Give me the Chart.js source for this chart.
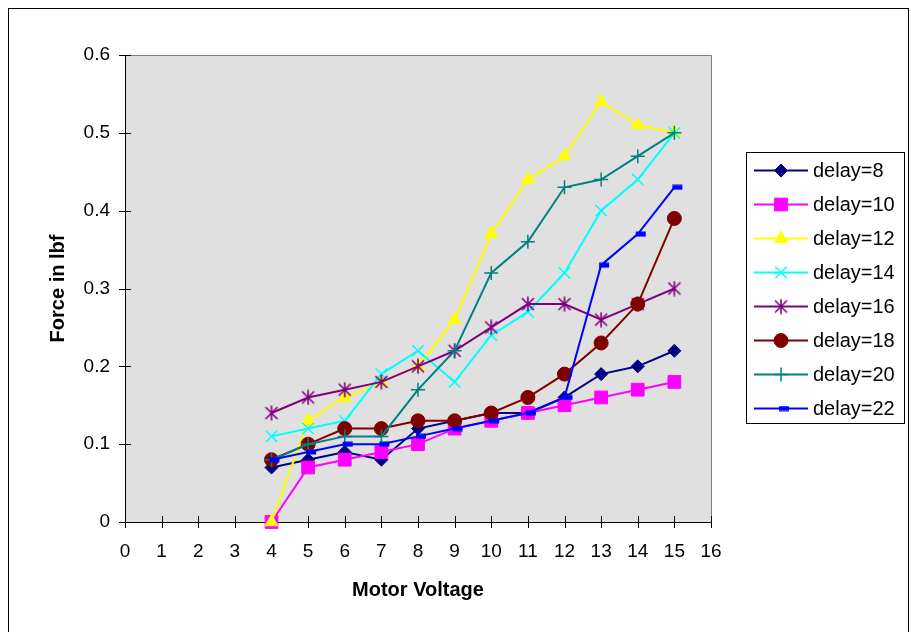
<!DOCTYPE html>
<html>
<head>
<meta charset="utf-8">
<script src="https://cdn.jsdelivr.net/npm/chart.js@4/dist/chart.umd.min.js"></script>
<style>
    html, body { margin: 0; padding: 0; background: #fff; }
    #wrap { position: relative; width: 911px; height: 632px; }
</style>
</head>
<body>
<div id="wrap"><canvas id="forceChart" width="911" height="632"></canvas></div>
<script>
// Dados
const voltages = [4, 5, 6, 7, 8, 9, 10, 11, 12, 13, 14, 15];
const seriesNames = ['delay=8', 'delay=10', 'delay=12', 'delay=14', 'delay=16', 'delay=18', 'delay=20', 'delay=22'];
const delay8  = [0.07, 0.08, 0.09, 0.08, 0.12, 0.13, 0.14, 0.14, 0.16, 0.19, 0.20, 0.22];
const delay10 = [0, 0.07, 0.08, 0.09, 0.10, 0.12, 0.13, 0.14, 0.15, 0.16, 0.17, 0.18];
const delay12 = [0, 0.13, 0.16, 0.18, 0.20, 0.26, 0.37, 0.44, 0.47, 0.54, 0.51, 0.50];
const delay14 = [0.11, 0.12, 0.13, 0.19, 0.22, 0.18, 0.24, 0.27, 0.32, 0.40, 0.44, 0.50];
const delay16 = [0.14, 0.16, 0.17, 0.18, 0.20, 0.22, 0.25, 0.28, 0.28, 0.26, 0.28, 0.30];
const delay18 = [0.08, 0.10, 0.12, 0.12, 0.13, 0.13, 0.14, 0.16, 0.19, 0.23, 0.28, 0.39];
const delay20 = [0.08, 0.10, 0.11, 0.11, 0.17, 0.22, 0.32, 0.36, 0.43, 0.44, 0.47, 0.50];
const delay22 = [0.08, 0.09, 0.10, 0.10, 0.11, 0.12, 0.13, 0.14, 0.16, 0.33, 0.37, 0.43];
const xTicks = [0, 1, 2, 3, 4, 5, 6, 7, 8, 9, 10, 11, 12, 13, 14, 15, 16];
const yTicks = [0, 0.1, 0.2, 0.3, 0.4, 0.5, 0.6];

// Marcadores desenhados à mão (asterisco e traço do Excel)
function makeAsterisk(color) {
    const c = document.createElement('canvas');
    c.width = 16; c.height = 16;
    const g = c.getContext('2d');
    g.strokeStyle = color;
    g.lineWidth = 1.6;
    g.beginPath();
    g.moveTo(2, 2); g.lineTo(14, 14);
    g.moveTo(14, 2); g.lineTo(2, 14);
    g.moveTo(8, 0.5); g.lineTo(8, 15.5);
    g.stroke();
    return c;
}
function makeDash(color) {
    const c = document.createElement('canvas');
    c.width = 20; c.height = 6;
    const g = c.getContext('2d');
    g.fillStyle = color;
    g.fillRect(8, 0.5, 10, 5);
    return c;
}

// Estilos de cada série
const allSeries = [delay8, delay10, delay12, delay14, delay16, delay18, delay20, delay22];
const colors = ['#000080', '#ff00ff', '#ffff00', '#00ffff', '#800080', '#800000', '#008080', '#0000ff'];
const markers = ['rectRot', 'rect', 'triangle', 'crossRot', makeAsterisk('#800080'), 'circle', 'cross', makeDash('#0000ff')];
const markerSizes = [6.5, 9, 7.5, 8, 7, 7, 7, 5];
const markerBorders = [1, 1, 1, 1.5, 1.5, 1, 1.5, 1];

Chart.defaults.font.family = "'Liberation Sans', Arial, sans-serif";
Chart.defaults.color = '#000';

const datasets = allSeries.map(function(values, i) {
    return {
        label: seriesNames[i],
        data: values.map((v, k) => ({ x: voltages[k], y: v })),
        borderColor: colors[i],
        backgroundColor: colors[i],
        borderWidth: 2,
        pointStyle: markers[i],
        pointRadius: markerSizes[i],
        pointBorderWidth: markerBorders[i],
        pointBackgroundColor: colors[i],
        pointBorderColor: colors[i],
        tension: 0,
        clip: false,
        order: allSeries.length - i
    };
});

function drawMarker(ctx, i, x, y) {
    ctx.fillStyle = colors[i];
    ctx.strokeStyle = colors[i];
    ctx.lineWidth = markerBorders[i];
    const opts = { pointStyle: markers[i], radius: markerSizes[i], borderWidth: markerBorders[i], rotation: 0 };
    if (Chart.helpers && Chart.helpers.drawPoint) {
        Chart.helpers.drawPoint(ctx, opts, x, y);
    } else {
        ctx.beginPath();
        ctx.arc(x, y, markerSizes[i], 0, Math.PI * 2);
        ctx.fill();
    }
}

// Fundo, moldura, marcas cruzadas e legenda
const excelLook = {
    id: 'excelLook',
    beforeDraw(chart) {
        const ctx = chart.ctx;
        const a = chart.chartArea;
        ctx.save();
        ctx.fillStyle = '#fff';
        ctx.fillRect(0, 0, chart.width, chart.height);
        ctx.strokeStyle = '#000';
        ctx.lineWidth = 1;
        ctx.strokeRect(8.5, 8.5, 900, 700);
        ctx.fillStyle = '#e0e0e0';
        ctx.fillRect(a.left, a.top, a.right - a.left, a.bottom - a.top);
        ctx.strokeStyle = '#808080';
        ctx.beginPath();
        ctx.moveTo(a.left, a.top + 0.5);
        ctx.lineTo(a.right + 0.5, a.top + 0.5);
        ctx.lineTo(a.right + 0.5, a.bottom);
        ctx.stroke();
        ctx.restore();
    },
    beforeDatasetsDraw(chart) {
        const ctx = chart.ctx;
        const xs = chart.scales.x;
        const ys = chart.scales.y;
        const a = chart.chartArea;
        ctx.save();
        ctx.strokeStyle = '#000';
        ctx.lineWidth = 1;
        ctx.beginPath();
        xTicks.forEach(function(t) {
            const px = Math.round(xs.getPixelForValue(t)) + 0.5;
            ctx.moveTo(px, a.bottom - 6);
            ctx.lineTo(px, a.bottom + 6);
        });
        yTicks.forEach(function(t) {
            const py = Math.round(ys.getPixelForValue(t)) + 0.5;
            ctx.moveTo(a.left - 6, py);
            ctx.lineTo(a.left + 6, py);
        });
        ctx.stroke();
        ctx.restore();
    },
    afterDraw(chart) {
        const ctx = chart.ctx;
        ctx.save();
        ctx.fillStyle = '#fff';
        ctx.fillRect(746.5, 152.5, 158, 271);
        ctx.strokeStyle = '#000';
        ctx.lineWidth = 1;
        ctx.strokeRect(746.5, 152.5, 158, 271);
        seriesNames.forEach(function(name, i) {
            const y = 170.5 + i * 34;
            ctx.strokeStyle = colors[i];
            ctx.lineWidth = 2;
            ctx.beginPath();
            ctx.moveTo(754, y);
            ctx.lineTo(808, y);
            ctx.stroke();
            drawMarker(ctx, i, 781, y);
            ctx.fillStyle = '#000';
            ctx.font = "20px 'Liberation Sans', Arial, sans-serif";
            ctx.textAlign = 'left';
            ctx.textBaseline = 'middle';
            ctx.fillText(name, 813, y + 1);
        });
        ctx.restore();
    }
};

const ctx = document.getElementById('forceChart').getContext('2d');
const forceChart = new Chart(ctx, {
    type: 'line',
    data: { datasets: datasets },
    options: {
        responsive: false,
        animation: false,
        layout: { padding: { left: 0, top: 55, right: 200, bottom: 0 } },
        plugins: {
            legend: { display: false },
            tooltip: { enabled: false }
        },
        scales: {
            x: {
                type: 'linear',
                min: 0,
                max: 16,
                afterFit: function(scale) { scale.height = 110; },
                afterBuildTicks: function(scale) { scale.ticks = xTicks.map(v => ({ value: v })); },
                grid: { drawOnChartArea: false, drawTicks: true, tickLength: 6, tickColor: 'rgba(0,0,0,0)' },
                border: { color: '#000', width: 1 },
                ticks: { padding: 12, font: { size: 19 }, color: '#000' },
                title: {
                    display: true,
                    text: 'Motor Voltage',
                    font: { size: 20, weight: 'bold' },
                    padding: { top: 0, bottom: 30 }
                }
            },
            y: {
                type: 'linear',
                min: 0,
                max: 0.6,
                afterFit: function(scale) { scale.width = 125; },
                afterBuildTicks: function(scale) { scale.ticks = yTicks.map(v => ({ value: v })); },
                grid: { drawOnChartArea: false, drawTicks: true, tickLength: 6, tickColor: 'rgba(0,0,0,0)' },
                border: { color: '#000', width: 1 },
                ticks: {
                    padding: 9,
                    font: { size: 19 },
                    color: '#000',
                    callback: function(v) { return String(Math.round(v * 10) / 10); }
                },
                title: {
                    display: true,
                    text: 'Force in lbf',
                    font: { size: 20, weight: 'bold' },
                    padding: { top: 46, bottom: 0 }
                }
            }
        }
    },
    plugins: [excelLook]
});
</script>
</body>
</html>
